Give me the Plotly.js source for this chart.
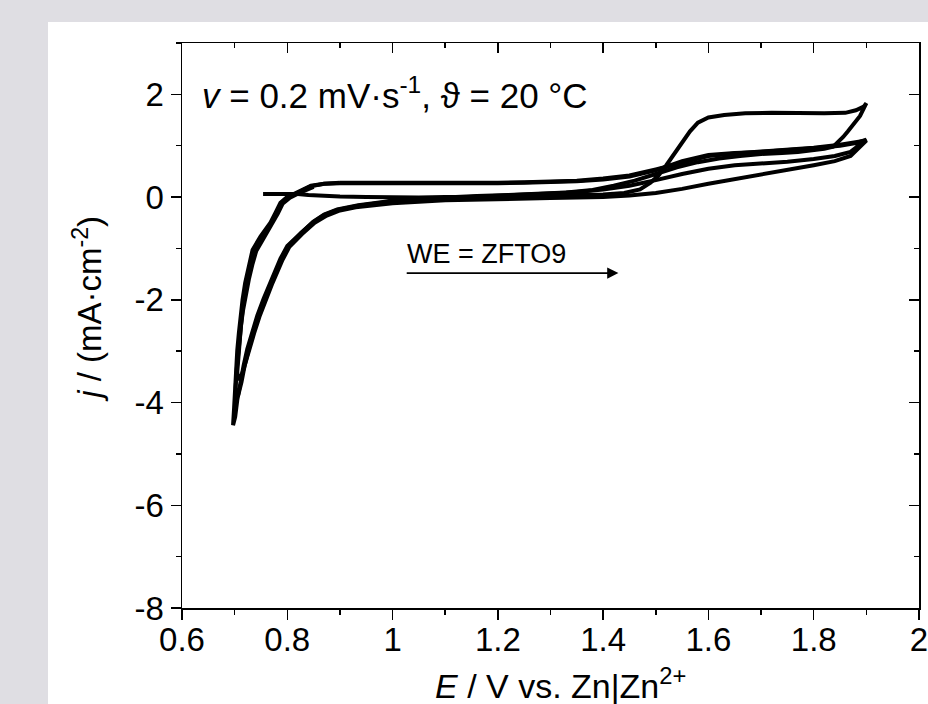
<!DOCTYPE html>
<html>
<head>
<meta charset="utf-8">
<script src="https://cdn.plot.ly/plotly-3.0.1.min.js"></script>
<style>html,body{margin:0;padding:0;background:#dfdee3;}#chart{width:928px;height:704px;}</style>
</head>
<body>
<div id="chart"></div>
<script>
// Cycle 1: start, anodic scan with oxidation wave, cathodic scan, reduction, reverse
var cycle1E = [0.754,0.82,0.84,0.87,0.90,0.95,1.00,1.05,1.10,1.15,1.20,1.25,1.30,1.35,1.40,1.44,1.47,1.49,1.505,1.52,1.535,1.55,1.565,1.58,1.60,1.63,1.67,1.72,1.77,1.82,1.86,1.88,1.895,1.90,
  1.888,1.875,1.865,1.856,1.845,1.837,1.82,1.80,1.77,1.74,1.70,1.66,1.62,1.58,1.54,1.50,1.46,1.42,1.38,1.33,1.28,1.22,1.16,1.10,1.05,1.00,0.977,0.935,0.895,0.87,0.849,0.825,0.80,0.787,0.768,0.755,0.743,0.733,0.724,0.717,0.711,0.705,0.701,0.698,
  0.697,0.699,0.701,0.703,0.705,0.708,0.711,0.715,0.720,0.727,0.734,0.749,0.768,0.778,0.787,0.80,0.819,0.844,0.87,0.90];
var cycle1J = [0.06,0.06,0.04,0.02,0.01,0.00,-0.01,-0.01,0.00,0.01,0.02,0.02,0.03,0.04,0.05,0.08,0.15,0.28,0.42,0.62,0.85,1.08,1.28,1.45,1.55,1.60,1.63,1.64,1.63,1.63,1.64,1.69,1.76,1.83,
  1.58,1.40,1.28,1.17,1.07,0.98,0.94,0.91,0.88,0.86,0.84,0.80,0.75,0.68,0.58,0.45,0.32,0.22,0.14,0.09,0.06,0.04,0.02,0.00,-0.03,-0.07,-0.10,-0.16,-0.24,-0.34,-0.48,-0.70,-0.95,-1.20,-1.65,-1.98,-2.31,-2.63,-2.96,-3.28,-3.60,-3.95,-4.28,-4.40,
  -4.44,-4.10,-3.62,-3.30,-2.98,-2.65,-2.33,-2.00,-1.67,-1.35,-1.03,-0.77,-0.50,-0.30,-0.11,0.00,0.08,0.21,0.26,0.27];

// Cycle 2
var cycle2E = [0.90,0.95,1.00,1.05,1.10,1.15,1.20,1.25,1.30,1.35,1.40,1.45,1.50,1.55,1.60,1.65,1.70,1.75,1.80,1.85,1.88,1.90,
  1.87,1.84,1.80,1.75,1.70,1.65,1.60,1.55,1.50,1.45,1.40,1.35,1.30,1.20,1.10,1.00,0.977,0.935,0.895,0.87,0.85,0.826,0.802,0.789,0.770,0.757,0.745,0.735,0.726,0.719,0.713,0.707,0.703,
  0.702,0.704,0.707,0.710,0.713,0.717,0.722,0.729,0.736,0.751,0.770,0.780,0.789,0.80,0.82,0.845,0.87,0.90];
var cycle2J = [0.27,0.27,0.26,0.26,0.26,0.26,0.27,0.28,0.29,0.31,0.34,0.40,0.52,0.70,0.82,0.86,0.88,0.91,0.95,1.00,1.05,1.12,
  0.88,0.80,0.74,0.69,0.66,0.62,0.55,0.45,0.33,0.22,0.15,0.10,0.07,0.03,-0.02,-0.08,-0.11,-0.17,-0.25,-0.35,-0.48,-0.70,-0.95,-1.20,-1.65,-1.98,-2.31,-2.63,-2.96,-3.28,-3.60,-3.85,-3.92,
  -3.70,-3.35,-3.00,-2.65,-2.33,-2.00,-1.67,-1.35,-1.03,-0.77,-0.50,-0.30,-0.11,0.00,0.09,0.22,0.26,0.28];

// Cycle 3
var cycle3E = [0.90,0.95,1.00,1.05,1.10,1.15,1.20,1.25,1.30,1.35,1.40,1.45,1.50,1.55,1.60,1.65,1.70,1.75,1.80,1.85,1.88,1.90,
  1.87,1.84,1.80,1.75,1.70,1.65,1.60,1.55,1.50,1.45,1.40,1.30,1.20,1.10,1.00,0.96,0.93,0.90,0.875,0.852,0.828,0.804,0.791,0.772,0.759,0.747,0.737,0.728,0.721,0.715,0.710,0.706,
  0.705,0.707,0.709,0.712,0.716,0.721,0.727,0.734,0.741,0.755,0.772,0.782,0.791,0.805,0.825,0.85];
var cycle3J = [0.28,0.28,0.27,0.27,0.27,0.28,0.28,0.29,0.30,0.32,0.36,0.42,0.54,0.68,0.80,0.85,0.89,0.92,0.96,1.02,1.06,1.10,
  0.80,0.70,0.62,0.53,0.45,0.36,0.26,0.16,0.08,0.03,0.00,-0.02,-0.04,-0.06,-0.12,-0.16,-0.20,-0.26,-0.36,-0.50,-0.72,-0.97,-1.22,-1.67,-2.00,-2.33,-2.65,-2.98,-3.25,-3.42,-3.52,-3.55,
  -3.40,-3.10,-2.80,-2.50,-2.20,-1.90,-1.60,-1.30,-1.05,-0.80,-0.52,-0.32,-0.13,-0.01,0.09,0.20];

var xTickVals = [0.6,0.8,1.0,1.2,1.4,1.6,1.8,2.0];
var xTickText = ['0.6','0.8','1','1.2','1.4','1.6','1.8','2'];
var yTickVals = [-8,-6,-4,-2,0,2];
var yTickText = ['-8','-6','-4','-2','0','2'];

var FONT = 'Arial, "Liberation Sans", sans-serif';
var lineStyle = {color: '#000000', width: 4};

var traces = [
  {x: cycle1E, y: cycle1J, mode: 'lines', line: lineStyle, showlegend: false, hoverinfo: 'skip'},
  {x: cycle2E, y: cycle2J, mode: 'lines', line: lineStyle, showlegend: false, hoverinfo: 'skip'},
  {x: cycle3E, y: cycle3J, mode: 'lines', line: lineStyle, showlegend: false, hoverinfo: 'skip'},
  {x: [null], y: [null], xaxis: 'x2', yaxis: 'y2', mode: 'lines', showlegend: false, hoverinfo: 'skip'},
  {x: [null], y: [null], xaxis: 'x3', yaxis: 'y', mode: 'lines', showlegend: false, hoverinfo: 'skip'}
];

var axisCommon = {
  showgrid: false, zeroline: false, showline: true, linecolor: '#000', linewidth: 1.5,
  tickcolor: '#000', tickwidth: 1.5, ticklen: 10
};

var layout = {
  width: 928, height: 704,
  margin: {l: 182, r: 9, t: 43, b: 96},
  paper_bgcolor: '#dfdee3',
  plot_bgcolor: '#ffffff',
  font: {family: FONT, color: '#000', size: 33},
  xaxis: Object.assign({}, axisCommon, {
    range: [0.6, 2.0], ticks: 'outside', tickvals: xTickVals, showticklabels: false,
    minor: {dtick: 0.1, tick0: 0.6, ticks: 'outside', ticklen: 5, tickwidth: 1.5, tickcolor: '#000'}
  }),
  xaxis3: {
    overlaying: 'x', anchor: 'y', side: 'bottom', range: [0.6, 2.0], showgrid: false, zeroline: false,
    showline: false, ticks: 'outside', ticklen: 2, tickcolor: 'rgba(0,0,0,0)',
    tickvals: xTickVals, ticktext: xTickText, ticklabeloverflow: 'allow',
    tickfont: {family: FONT, size: 33, color: '#000'}
  },
  yaxis: Object.assign({}, axisCommon, {
    range: [-8, 3], ticks: 'outside', tickvals: yTickVals, ticktext: yTickText,
    tickfont: {family: FONT, size: 33, color: '#000'},
    minor: {dtick: 1, tick0: 0, ticks: 'outside', ticklen: 5, tickwidth: 1.5, tickcolor: '#000'}
  }),
  xaxis2: Object.assign({}, axisCommon, {
    overlaying: 'x', side: 'top', anchor: 'y', range: [0.6, 2.0], ticks: 'inside',
    tickvals: xTickVals, showticklabels: false,
    minor: {dtick: 0.1, tick0: 0.6, ticks: 'inside', ticklen: 5, tickwidth: 1.5, tickcolor: '#000'}
  }),
  yaxis2: Object.assign({}, axisCommon, {
    overlaying: 'y', side: 'right', anchor: 'x', range: [-8, 3], ticks: 'inside',
    tickvals: yTickVals, showticklabels: false,
    minor: {dtick: 1, tick0: 0, ticks: 'inside', ticklen: 5, tickwidth: 1.5, tickcolor: '#000'}
  }),
  shapes: [
    {type: 'rect', xref: 'paper', yref: 'paper', x0: -0.1818, x1: 1.02, y0: -0.2, y1: 1.037,
     fillcolor: '#ffffff', line: {width: 0}, layer: 'below'}
  ],
  annotations: [
    {xref: 'paper', yref: 'paper', x: 0.0244, y: 0.912, xanchor: 'left', yanchor: 'middle', showarrow: false,
     text: '<i>v</i> = 0.2 mV·s<sup>-1</sup>, ϑ = 20 °C', font: {family: FONT, size: 35, color: '#000'}},
    {xref: 'paper', yref: 'paper', x: 0.3026, y: 0.6265, xanchor: 'left', yanchor: 'middle', showarrow: false,
     text: 'WE = ZFTO9', font: {family: FONT, size: 27, color: '#000'}},
    {xref: 'x', yref: 'y', x: 1.429, y: -1.48, axref: 'x', ayref: 'y', ax: 1.024, ay: -1.48,
     text: '', showarrow: true, arrowhead: 2, arrowsize: 1.4, arrowwidth: 1.6, arrowcolor: '#000', standoff: 0, startstandoff: 0},
    {xref: 'paper', yref: 'paper', x: 0.514, y: -0.134, xanchor: 'center', yanchor: 'middle', showarrow: false,
     text: '<i>E</i> / V vs. Zn|Zn<sup>2+</sup>', font: {family: FONT, size: 34, color: '#000'}},
    {xref: 'paper', yref: 'paper', x: -0.128, y: 0.529, xanchor: 'center', yanchor: 'middle', showarrow: false, textangle: -90,
     text: '<i>j</i> / (mA·cm<sup>-2</sup>)', font: {family: FONT, size: 33, color: '#000'}}
  ]
};

Plotly.newPlot('chart', traces, layout, {displayModeBar: false, staticPlot: true});
</script>
</body>
</html>
